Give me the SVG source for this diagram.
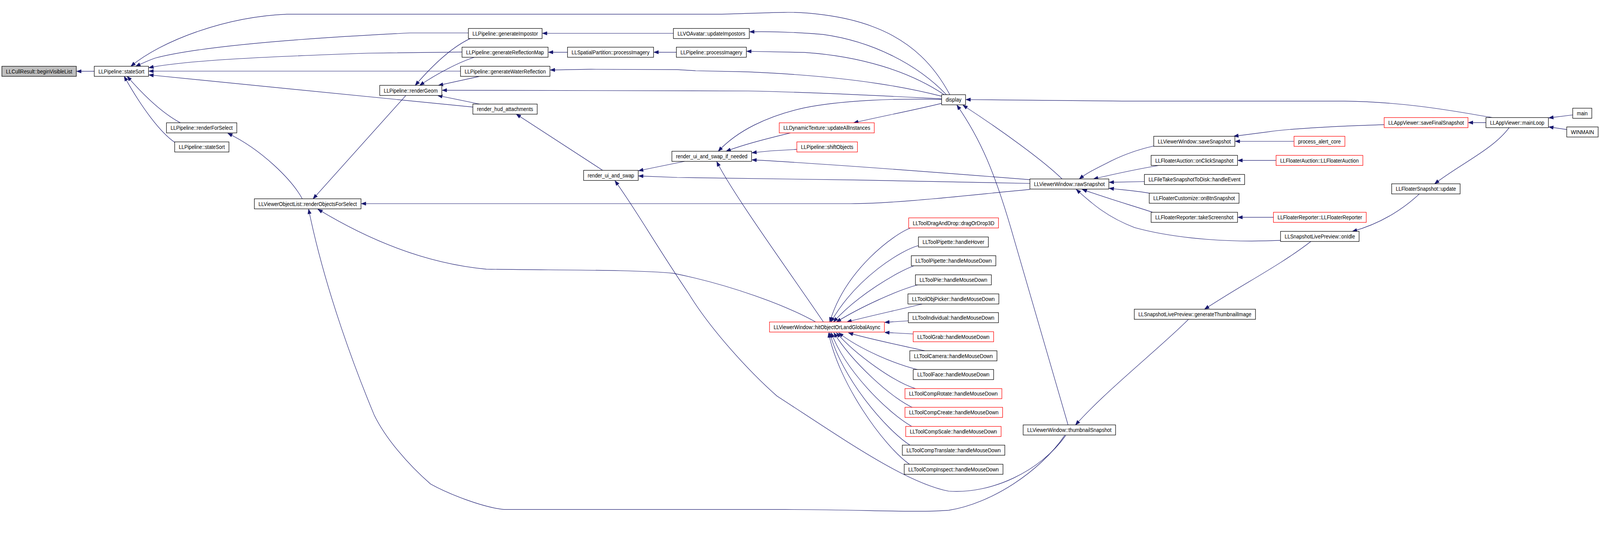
<svg xmlns="http://www.w3.org/2000/svg" width="4277" height="1407" viewBox="0 0 4277 1407">
<defs>
<marker id="arr" markerWidth="14" markerHeight="12" refX="12" refY="4.5" orient="auto" markerUnits="userSpaceOnUse" overflow="visible">
<path d="M0,0 L12,4.5 L0,9 Z" fill="#191970" stroke="#191970" stroke-width="1"/>
</marker>
</defs>
<style>
.node rect{fill:#ffffff;stroke:#000000;stroke-width:1.3}
.node.red rect{stroke:#ff0000}
.node.root rect{fill:#bfbfbf}
.node text{font-family:"Liberation Sans",Arial,Helvetica,sans-serif;font-size:15px;text-anchor:middle;fill:#000000}
#edges path{fill:none;stroke:#191970;stroke-width:1.2;marker-end:url(#arr)}
</style>
<rect x="0" y="0" width="4277" height="1407" fill="#ffffff"/>
<g id="graph" transform="scale(0.9577)">
<g id="edges">
<path d="M252,190.5 L205,190.5"/>
<path d="M2539,253 C2500,180 2440,110 2330,70 C2250,40 2150,32 2096,33 C2040,34 2000,36 1929,38 L766,38 C600,45 430,110 350,177"/>
<path d="M1252,88 L1096,88 C850,100 550,120 415,155 C395,162 378,170 363,177"/>
<path d="M1235,139 L985,142 C750,150 500,160 398,181"/>
<path d="M1231,190 L398,190"/>
<path d="M1264,286 C1000,258 700,232 398,200"/>
<path d="M482,328 C430,300 380,250 340,204"/>
<path d="M467,380 C430,355 380,290 332,204"/>
<path d="M1800,89 L1450,89"/>
<path d="M1517,139.5 L1466,139.5"/>
<path d="M1808,139.5 L1748,139.5"/>
<path d="M2530,253 C2450,170 2330,110 2200,92 C2130,86 2060,84 2004,85"/>
<path d="M2524,253 C2430,190 2300,150 2150,140 L1996,137"/>
<path d="M2517,257 C2450,240 2300,205 2000,192 L1860,189 L1810,186 L1580,185 L1471,187"/>
<path d="M2517,264 C2400,258 2200,247 2000,243 L1182,241"/>
<path d="M2517,266 C2400,262 2250,268 2150,288 C2050,310 1970,350 1920,404"/>
<path d="M2517,276 C2440,295 2350,312 2282,328"/>
<path d="M2839,478 C2790,430 2680,350 2574,281"/>
<path d="M2855,1135 L2711,640 C2660,460 2620,370 2558,281"/>
<path d="M3990,314 L3953,308 C3850,290 3733,272 3594,270 L3000,270 L2582,266"/>
<path d="M1257,103 C1210,125 1160,170 1110,228"/>
<path d="M1268,153 C1230,165 1170,195 1122,228"/>
<path d="M1282,204 L1172,228"/>
<path d="M1282,278 L1170,255"/>
<path d="M1085,255 L837,531"/>
<path d="M808,531 C780,480 700,400 609,356"/>
<path d="M2180,860 C2100,815 1950,760 1800,730 C1700,720 1500,722 1300,719 C1150,705 1000,650 850,559"/>
<path d="M2846,1163 C2780,1260 2650,1345 2536,1363 C2450,1370 2300,1361 2100,1361 L1347,1361 C1290,1355 1200,1320 1151,1293 C1090,1240 1030,1170 1000,1108 C955,1000 870,780 825,559"/>
<path d="M2849,1163 C2780,1260 2650,1320 2536,1312 C2420,1290 2250,1170 2077,1058 C2000,990 1900,880 1842,786 C1750,650 1700,560 1644,483"/>
<path d="M2201,860 C2120,740 1960,520 1916,432"/>
<path d="M2113,355 C2060,368 1990,385 1941,404"/>
<path d="M2130,399 L2060,403 L2010,408"/>
<path d="M2753,480 C2500,460 2200,437 2010,427"/>
<path d="M2753,490 L2300,481 L1810,474 L1707,470"/>
<path d="M2753,506 C2600,520 2400,544 2274,544 L966,544"/>
<path d="M1830,431 L1707,456"/>
<path d="M1611,455 L1380,305"/>
<path d="M3084,390 C3040,400 3000,415 2970,430 C2930,450 2905,462 2885,478"/>
<path d="M3098,442 C3050,450 3000,460 2923,478"/>
<path d="M3059,485 L2965,487"/>
<path d="M3072,516 C3040,510 3000,507 2965,503"/>
<path d="M3081,567 C3030,550 2960,530 2893,506"/>
<path d="M3423,642 C3300,648 3150,640 3033,608 C2960,580 2920,545 2877,506"/>
<path d="M3459,377.5 L3302,377.5"/>
<path d="M3700,333 C3600,336 3450,343 3391,352 L3298,364"/>
<path d="M3972,327.5 L3925,327.5"/>
<path d="M4204,307 L4140,315"/>
<path d="M4188,346 L4140,339"/>
<path d="M3411,428.5 L3309,428.5"/>
<path d="M3404,580.5 L3309,580.5"/>
<path d="M3794,518 C3760,550 3700,595 3615,618"/>
<path d="M4034,341 C3990,400 3900,440 3835,491"/>
<path d="M3504,645 C3420,710 3320,760 3220,826"/>
<path d="M3177,853 C3100,930 2960,1040 2875,1135"/>
<path d="M2434,609 C2390,625 2260,720 2218,860"/>
<path d="M2455,656 C2410,668 2290,740 2221,860"/>
<path d="M2443,710 C2400,725 2290,790 2228,860"/>
<path d="M2453,761 C2400,775 2300,820 2236,860"/>
<path d="M2469,811 C2400,828 2320,845 2264,860"/>
<path d="M2428,857 L2365,861"/>
<path d="M2441,892 L2365,888"/>
<path d="M2472,937 C2420,925 2320,905 2268,889"/>
<path d="M2456,988 C2400,975 2300,935 2242,889"/>
<path d="M2447,1038 C2390,1020 2290,950 2236,889"/>
<path d="M2440,1089 C2380,1060 2280,970 2229,889"/>
<path d="M2437,1139 C2370,1100 2260,990 2222,889"/>
<path d="M2434,1190 C2370,1150 2250,1010 2218,889"/>
<path d="M2431,1240 C2360,1190 2240,1020 2215,889"/>
</g>
<g id="n_begin" class="node root"><rect x="5" y="177" width="199" height="27"/><text x="104.5" y="196" textLength="177" lengthAdjust="spacingAndGlyphs">LLCullResult::beginVisibleList</text></g>
<g id="n_stateSort" class="node"><rect x="252" y="177" width="145" height="27"/><text x="324.5" y="196" textLength="123" lengthAdjust="spacingAndGlyphs">LLPipeline::stateSort</text></g>
<g id="n_renderForSelect" class="node"><rect x="445" y="328" width="188" height="27"/><text x="539" y="347" textLength="166" lengthAdjust="spacingAndGlyphs">LLPipeline::renderForSelect</text></g>
<g id="n_stateSort2" class="node"><rect x="467" y="379" width="145" height="27"/><text x="539.5" y="398" textLength="123" lengthAdjust="spacingAndGlyphs">LLPipeline::stateSort</text></g>
<g id="n_renderObjectsForSelect" class="node"><rect x="680" y="531" width="285" height="27"/><text x="822.5" y="550" textLength="263" lengthAdjust="spacingAndGlyphs">LLViewerObjectList::renderObjectsForSelect</text></g>
<g id="n_renderGeom" class="node"><rect x="1015" y="228" width="166" height="27"/><text x="1098" y="247" textLength="144" lengthAdjust="spacingAndGlyphs">LLPipeline::renderGeom</text></g>
<g id="n_generateImpostor" class="node"><rect x="1252" y="76" width="197" height="27"/><text x="1350.5" y="95" textLength="175" lengthAdjust="spacingAndGlyphs">LLPipeline::generateImpostor</text></g>
<g id="n_generateReflectionMap" class="node"><rect x="1235" y="126" width="230" height="27"/><text x="1350" y="145" textLength="208" lengthAdjust="spacingAndGlyphs">LLPipeline::generateReflectionMap</text></g>
<g id="n_generateWaterReflection" class="node"><rect x="1231" y="177" width="239" height="27"/><text x="1350.5" y="196" textLength="217" lengthAdjust="spacingAndGlyphs">LLPipeline::generateWaterReflection</text></g>
<g id="n_render_hud_attachments" class="node"><rect x="1264" y="278" width="172" height="27"/><text x="1350" y="297" textLength="150" lengthAdjust="spacingAndGlyphs">render_hud_attachments</text></g>
<g id="n_updateImpostors" class="node"><rect x="1800" y="76" width="203" height="27"/><text x="1901.5" y="95" textLength="181" lengthAdjust="spacingAndGlyphs">LLVOAvatar::updateImpostors</text></g>
<g id="n_spatialProcessImagery" class="node"><rect x="1517" y="126" width="230" height="27"/><text x="1632" y="145" textLength="208" lengthAdjust="spacingAndGlyphs">LLSpatialPartition::processImagery</text></g>
<g id="n_pipelineProcessImagery" class="node"><rect x="1808" y="126" width="187" height="27"/><text x="1901.5" y="145" textLength="165" lengthAdjust="spacingAndGlyphs">LLPipeline::processImagery</text></g>
<g id="n_render_ui_and_swap" class="node"><rect x="1560" y="455" width="146" height="27"/><text x="1633" y="474" textLength="124" lengthAdjust="spacingAndGlyphs">render_ui_and_swap</text></g>
<g id="n_render_ui_and_swap_if_needed" class="node"><rect x="1796" y="404" width="213" height="27"/><text x="1902.5" y="423" textLength="191" lengthAdjust="spacingAndGlyphs">render_ui_and_swap_if_needed</text></g>
<g id="n_display" class="node"><rect x="2517" y="253" width="64" height="27"/><text x="2549" y="272" textLength="42" lengthAdjust="spacingAndGlyphs">display</text></g>
<g id="n_updateAllInstances" class="node red"><rect x="2083" y="328" width="254" height="27"/><text x="2210" y="347" textLength="232" lengthAdjust="spacingAndGlyphs">LLDynamicTexture::updateAllInstances</text></g>
<g id="n_shiftObjects" class="node red"><rect x="2130" y="379" width="162" height="27"/><text x="2211" y="398" textLength="140" lengthAdjust="spacingAndGlyphs">LLPipeline::shiftObjects</text></g>
<g id="n_hitObjectOrLandGlobalAsync" class="node red"><rect x="2057" y="860" width="307" height="27"/><text x="2210.5" y="879" textLength="285" lengthAdjust="spacingAndGlyphs">LLViewerWindow::hitObjectOrLandGlobalAsync</text></g>
<g id="n_rawSnapshot" class="node"><rect x="2753" y="478" width="211" height="27"/><text x="2858.5" y="497" textLength="189" lengthAdjust="spacingAndGlyphs">LLViewerWindow::rawSnapshot</text></g>
<g id="n_thumbnailSnapshot" class="node"><rect x="2735" y="1135" width="247" height="27"/><text x="2858.5" y="1154" textLength="225" lengthAdjust="spacingAndGlyphs">LLViewerWindow::thumbnailSnapshot</text></g>
<g id="n_saveSnapshot" class="node"><rect x="3084" y="364" width="217" height="27"/><text x="3192.5" y="383" textLength="195" lengthAdjust="spacingAndGlyphs">LLViewerWindow::saveSnapshot</text></g>
<g id="n_process_alert_core" class="node red"><rect x="3459" y="364" width="136" height="27"/><text x="3527" y="383" textLength="114" lengthAdjust="spacingAndGlyphs">process_alert_core</text></g>
<g id="n_onClickSnapshot" class="node"><rect x="3077" y="415" width="231" height="27"/><text x="3192.5" y="434" textLength="209" lengthAdjust="spacingAndGlyphs">LLFloaterAuction::onClickSnapshot</text></g>
<g id="n_LLFloaterAuction" class="node red"><rect x="3411" y="415" width="232" height="27"/><text x="3527" y="434" textLength="210" lengthAdjust="spacingAndGlyphs">LLFloaterAuction::LLFloaterAuction</text></g>
<g id="n_fileTakeSnapshot" class="node"><rect x="3059" y="466" width="268" height="27"/><text x="3193" y="485" textLength="246" lengthAdjust="spacingAndGlyphs">LLFileTakeSnapshotToDisk::handleEvent</text></g>
<g id="n_onBtnSnapshot" class="node"><rect x="3072" y="516" width="240" height="27"/><text x="3192" y="535" textLength="218" lengthAdjust="spacingAndGlyphs">LLFloaterCustomize::onBtnSnapshot</text></g>
<g id="n_takeScreenshot" class="node"><rect x="3077" y="567" width="231" height="27"/><text x="3192.5" y="586" textLength="209" lengthAdjust="spacingAndGlyphs">LLFloaterReporter::takeScreenshot</text></g>
<g id="n_LLFloaterReporter" class="node red"><rect x="3404" y="567" width="248" height="27"/><text x="3528" y="586" textLength="226" lengthAdjust="spacingAndGlyphs">LLFloaterReporter::LLFloaterReporter</text></g>
<g id="n_onIdle" class="node"><rect x="3423" y="618" width="210" height="27"/><text x="3528" y="637" textLength="188" lengthAdjust="spacingAndGlyphs">LLSnapshotLivePreview::onIdle</text></g>
<g id="n_generateThumbnailImage" class="node"><rect x="3032" y="826" width="324" height="27"/><text x="3194" y="845" textLength="302" lengthAdjust="spacingAndGlyphs">LLSnapshotLivePreview::generateThumbnailImage</text></g>
<g id="n_floaterSnapshotUpdate" class="node"><rect x="3720" y="491" width="183" height="27"/><text x="3811.5" y="510" textLength="161" lengthAdjust="spacingAndGlyphs">LLFloaterSnapshot::update</text></g>
<g id="n_saveFinalSnapshot" class="node red"><rect x="3700" y="314" width="224" height="27"/><text x="3812" y="333" textLength="202" lengthAdjust="spacingAndGlyphs">LLAppViewer::saveFinalSnapshot</text></g>
<g id="n_mainLoop" class="node"><rect x="3972" y="314" width="167" height="27"/><text x="4055.5" y="333" textLength="145" lengthAdjust="spacingAndGlyphs">LLAppViewer::mainLoop</text></g>
<g id="n_main" class="node"><rect x="4204" y="289" width="51" height="27"/><text x="4229.5" y="308" textLength="29" lengthAdjust="spacingAndGlyphs">main</text></g>
<g id="n_WINMAIN" class="node"><rect x="4188" y="339" width="84" height="27"/><text x="4230" y="358" textLength="62" lengthAdjust="spacingAndGlyphs">WINMAIN</text></g>
<g id="n_dragOrDrop3D" class="node red"><rect x="2429" y="582" width="240" height="27"/><text x="2549" y="601" textLength="218" lengthAdjust="spacingAndGlyphs">LLToolDragAndDrop::dragOrDrop3D</text></g>
<g id="n_pipetteHover" class="node"><rect x="2455" y="633" width="187" height="27"/><text x="2548.5" y="652" textLength="165" lengthAdjust="spacingAndGlyphs">LLToolPipette::handleHover</text></g>
<g id="n_pipetteMouseDown" class="node"><rect x="2436" y="683" width="226" height="27"/><text x="2549" y="702" textLength="204" lengthAdjust="spacingAndGlyphs">LLToolPipette::handleMouseDown</text></g>
<g id="n_pieMouseDown" class="node"><rect x="2447" y="734" width="203" height="27"/><text x="2548.5" y="753" textLength="181" lengthAdjust="spacingAndGlyphs">LLToolPie::handleMouseDown</text></g>
<g id="n_objPickerMouseDown" class="node"><rect x="2427" y="785" width="243" height="27"/><text x="2548.5" y="804" textLength="221" lengthAdjust="spacingAndGlyphs">LLToolObjPicker::handleMouseDown</text></g>
<g id="n_individualMouseDown" class="node"><rect x="2428" y="835" width="241" height="27"/><text x="2548.5" y="854" textLength="219" lengthAdjust="spacingAndGlyphs">LLToolIndividual::handleMouseDown</text></g>
<g id="n_grabMouseDown" class="node red"><rect x="2441" y="886" width="215" height="27"/><text x="2548.5" y="905" textLength="193" lengthAdjust="spacingAndGlyphs">LLToolGrab::handleMouseDown</text></g>
<g id="n_cameraMouseDown" class="node"><rect x="2432" y="937" width="233" height="27"/><text x="2548.5" y="956" textLength="211" lengthAdjust="spacingAndGlyphs">LLToolCamera::handleMouseDown</text></g>
<g id="n_faceMouseDown" class="node"><rect x="2441" y="987" width="215" height="27"/><text x="2548.5" y="1006" textLength="193" lengthAdjust="spacingAndGlyphs">LLToolFace::handleMouseDown</text></g>
<g id="n_compRotateMouseDown" class="node red"><rect x="2419" y="1038" width="259" height="27"/><text x="2548.5" y="1057" textLength="237" lengthAdjust="spacingAndGlyphs">LLToolCompRotate::handleMouseDown</text></g>
<g id="n_compCreateMouseDown" class="node red"><rect x="2419" y="1088" width="261" height="27"/><text x="2549.5" y="1107" textLength="239" lengthAdjust="spacingAndGlyphs">LLToolCompCreate::handleMouseDown</text></g>
<g id="n_compScaleMouseDown" class="node red"><rect x="2421" y="1139" width="255" height="27"/><text x="2548.5" y="1158" textLength="233" lengthAdjust="spacingAndGlyphs">LLToolCompScale::handleMouseDown</text></g>
<g id="n_compTranslateMouseDown" class="node"><rect x="2412" y="1189" width="274" height="27"/><text x="2549" y="1208" textLength="252" lengthAdjust="spacingAndGlyphs">LLToolCompTranslate::handleMouseDown</text></g>
<g id="n_compInspectMouseDown" class="node"><rect x="2417" y="1240" width="264" height="27"/><text x="2549" y="1259" textLength="242" lengthAdjust="spacingAndGlyphs">LLToolCompInspect::handleMouseDown</text></g>
</g>
</svg>
